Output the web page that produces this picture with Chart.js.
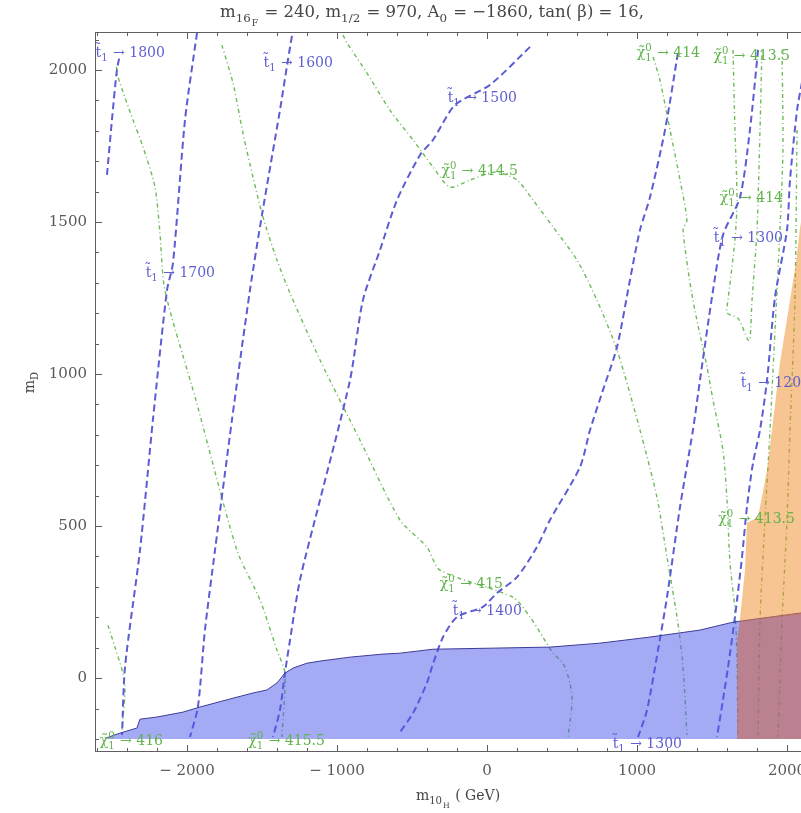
<!DOCTYPE html>
<html><head><meta charset="utf-8">
<script src="https://cdn.jsdelivr.net/npm/chart.js@4/dist/chart.umd.min.js"></script>
<style>html,body{margin:0;padding:0;overflow:hidden;background:#fff;width:801px;height:813px}canvas{display:block}</style>
</head><body><canvas id="c" width="830" height="813"></canvas>
<script>
// ---------- data (x = m_10H, y = m_D) ----------
const xTicks = [-2000, -1000, 0, 1000, 2000];
const yTicks = [0, 500, 1000, 1500, 2000];
const xLabels = ['\u2212 2000', '\u2212 1000', '0', '1000', '2000'];
const yLabels = ['0', '500', '1000', '1500', '2000'];

// stop-mass contours  (t~1)
const stop1800 = [[-2533,1655],[-2500,1836],[-2467,2000],[-2447,2049]];
const stop1700 = [[-1933,2122],[-2013,1836],[-2093,1365],[-2133,1276],[-2227,849],[-2313,421],[-2413,36],[-2433,-187]];
const stop1600 = [[-1300,2112],[-1327,2033],[-1380,1868],[-1500,1523],[-1580,1276],[-1700,849],[-1813,421],[-1880,158],[-1927,-95],[-1980,-194]];
const stop1500 = [[287,2076],[20,1951],[-213,1885],[-360,1770],[-447,1720],[-600,1572],[-713,1408],[-827,1243],[-913,980],[-1113,586],[-1247,322],[-1313,125],[-1347,16],[-1380,-105],[-1427,-194]];
const stop1400 = [[1273,2056],[1187,1803],[1087,1582],[1020,1474],[953,1309],[867,1089],[773,947],[687,816],[620,694],[420,520],[333,431],[200,332],[67,280],[-27,234],[-200,201],[-293,135],[-367,36],[-400,-16],[-493,-115],[-580,-178]];
const stop1300 = [[1807,2066],[1753,1803],[1687,1582],[1573,1457],[1500,1253],[1420,980],[1373,816],[1287,563],[1200,266],[1140,92],[1067,-105],[1007,-194]];
const stop1200 = [[2100,1960],[2067,1868],[2020,1638],[2000,1474],[1920,1253],[1867,980],[1820,816],[1773,707],[1733,563],[1700,398],[1653,201],[1607,36],[1573,-72],[1533,-194]];

// neutralino-mass contours (chi~1^0)
const neut416   = [[-2527,174],[-2480,102],[-2427,16],[-2413,-39],[-2427,-138],[-2433,-187]];
const neut4155  = [[-2470,2010],[-2460,1977],[-2360,1836],[-2293,1747],[-2213,1615],[-2180,1464],[-2147,1276],[-1940,914],[-1667,421],[-1513,257],[-1400,92],[-1347,16],[-1367,-194]];
const neut415   = [[-1767,2082],[-1693,1957],[-1627,1793],[-1560,1648],[-1493,1516],[-1400,1375],[-1313,1266],[-1113,1046],[-847,783],[-580,520],[-400,431],[-313,355],[173,266],[287,201],[373,135],[440,82],[507,49],[553,-16],[567,-82],[540,-194]];
const neut4145  = [[-960,2115],[-933,2089],[-800,1990],[-647,1868],[-493,1770],[-360,1681],[-247,1615],[-113,1638],[53,1664],[200,1638],[307,1572],[440,1484],[600,1375],[733,1243],[867,1079],[1020,816],[1133,595],[1200,398],[1273,181],[1307,36],[1333,-187]];
const neut414   = [[1107,2043],[1153,1967],[1220,1803],[1287,1638],[1333,1507],[1307,1474],[1373,1243],[1467,1023],[1507,914],[1573,750],[1600,586],[1620,378],[1653,224],[1667,59],[1673,-194]];
const neutLoop  = [[1640,2066],[1653,1803],[1667,1572],[1653,1441],[1607,1243],[1600,1201],[1673,1184],[1740,1112],[1753,1112],[1767,1243],[1800,1474],[1820,1803],[1833,2066]];
const neut4135a = [[1967,2066],[1973,1737],[1953,1474],[1920,1145],[1887,816],[1853,520],[1820,191],[1807,-194]];
const neut4135b = [[2067,1803],[2053,1243],[2020,816],[2000,520],[1967,191],[1940,-194]];

// excluded regions
const blueTop = [[-2540,-197],[-2447,-181],[-2333,-164],[-2313,-135],[-2200,-128],[-2027,-112],[-1913,-95],[-1693,-66],[-1560,-49],[-1467,-39],[-1400,-16],[-1347,16],[-1293,33],[-1200,49],[-1113,56],[-913,69],[-693,79],[-580,82],[-360,95],[87,99],[420,102],[753,115],[1087,135],[1420,158],[1640,184],[2087,214],[2300,223]];
const orangeOnly = [[1685,187],[1720,355],[1733,510],[1807,530],[1867,684],[1900,816],[1953,1036],[2060,1365],[2087,1480],[2120,1580],[2300,1580],[2300,223]];
const overlap = [[1667,-200],[1667,125],[1685,187],[2087,214],[2300,223],[2300,-200]];

// contour labels: kind, value, right end (x), middle (y)
const contourLabels = [
  ['t','1800',-2147,2059],['t','1700',-1813,1336],['t','1600',-1027,2026],['t','1500',200,1911],
  ['t','1400',233,224],['t','1300',1300,-214],['t','1300',1973,1451],['t','1200',2153,974],
  ['n','414.5',207,1671],['n','415',107,312],['n','414',1973,1582],['n','414',1420,2059],
  ['n','413.5',2020,2049],['n','413.5',2053,526],['n','416',-2160,-204],['n','415.5',-1080,-204]
];

// ---------- styling ----------
const BLUE = 'rgb(92,92,212)';
const GREEN = 'rgb(108,186,90)';
const pts = a => a.map(p => ({x: p[0], y: p[1]}));
const stopLine = a => ({data: pts(a), borderColor: BLUE, borderWidth: 2, borderDash: [7,4], pointRadius: 0, fill: false, tension: 0.25});
const neutLine = a => ({data: pts(a), borderColor: GREEN, borderWidth: 1.4, borderDash: [4,3,1,3], pointRadius: 0, fill: false, tension: 0.25});

const datasets = [
  {data: pts(overlap), borderWidth: 0, borderColor: 'rgba(0,0,0,0)', backgroundColor: 'rgba(200,103,78,0.6)', fill: 'shape', pointRadius: 0, tension: 0},
  {data: pts(orangeOnly), borderWidth: 0, borderColor: 'rgba(0,0,0,0)', backgroundColor: 'rgba(240,140,35,0.5)', fill: 'shape', pointRadius: 0, tension: 0},
  {data: pts(blueTop), borderWidth: 1, borderColor: 'rgb(60,60,150)', backgroundColor: 'rgba(75,85,235,0.5)', fill: {value: -200}, pointRadius: 0, tension: 0},
  stopLine(stop1800), stopLine(stop1700), stopLine(stop1600), stopLine(stop1500), stopLine(stop1400), stopLine(stop1300), stopLine(stop1200),
  neutLine(neut416), neutLine(neut4155), neutLine(neut415), neutLine(neut4145), neutLine(neut414), neutLine(neutLoop), neutLine(neut4135a), neutLine(neut4135b)
];

const FAM = '"DejaVu Serif", "Liberation Serif", serif';
function segWidth(ctx, s, size) {
  if (s.t !== undefined) { ctx.font = size + 'px ' + FAM; return ctx.measureText(s.t).width; }
  if (s.sub !== undefined) {
    ctx.font = (size * 0.72) + 'px ' + FAM;
    let w = ctx.measureText(s.sub).width;
    if (s.sup !== undefined) w = Math.max(w, ctx.measureText(s.sup).width);
    return w + 1;
  }
  if (s.subsub !== undefined) { ctx.font = (size * 0.55) + 'px ' + FAM; return ctx.measureText(s.subsub).width + 1; }
  return 0;
}
function drawRich(ctx, segs, x, y, size, color, align) {
  let total = 0; for (const s of segs) total += segWidth(ctx, s, size);
  let cx = align === 'right' ? x - total : align === 'center' ? x - total / 2 : x;
  ctx.fillStyle = color; ctx.textBaseline = 'alphabetic'; ctx.textAlign = 'left';
  for (const s of segs) {
    const w = segWidth(ctx, s, size);
    if (s.t !== undefined) { ctx.font = size + 'px ' + FAM; ctx.fillText(s.t, cx, y); }
    else if (s.sub !== undefined) {
      ctx.font = (size * 0.72) + 'px ' + FAM;
      ctx.fillText(s.sub, cx, y + size * 0.3);
      if (s.sup !== undefined) ctx.fillText(s.sup, cx, y - size * 0.45);
    } else if (s.subsub !== undefined) {
      ctx.font = (size * 0.55) + 'px ' + FAM; ctx.fillText(s.subsub, cx, y + size * 0.55);
    }
    cx += w;
  }
}

const overlay = {
  id: 'overlay',
  afterDraw(chart) {
    const ctx = chart.ctx, xs = chart.scales.x, ys = chart.scales.y, a = chart.chartArea;
    ctx.save();
    ctx.beginPath(); ctx.rect(a.left, a.top, a.right - a.left, a.bottom - a.top); ctx.clip();
    for (const L of contourLabels) {
      const px = xs.getPixelForValue(L[2]), py = ys.getPixelForValue(L[3]) + 5;
      const segs = L[0] === 't'
        ? [{t: 't\u0303'}, {sub: '1'}, {t: ' \u2192 ' + L[1]}]
        : [{t: '\u03C7\u0303'}, {sub: '1', sup: '0'}, {t: ' \u2192 ' + L[1]}];
      drawRich(ctx, segs, px, py, 14, L[0] === 't' ? 'rgb(95,95,210)' : 'rgb(95,180,75)', 'right');
    }
    ctx.restore();

    // frame
    ctx.save();
    ctx.strokeStyle = 'rgb(95,95,95)'; ctx.lineWidth = 1;
    ctx.strokeRect(a.left + 0.5, a.top + 0.5, a.right - a.left - 1, a.bottom - a.top - 1);
    ctx.beginPath();
    for (let v = -2600; v <= 2100; v += 200) {
      const p = Math.round(xs.getPixelForValue(v)) + 0.5;
      const len = (v % 1000 === 0) ? 7 : 4;
      ctx.moveTo(p, a.bottom); ctx.lineTo(p, a.bottom - len);
      ctx.moveTo(p, a.top); ctx.lineTo(p, a.top + len);
    }
    for (let v = -200; v <= 2100; v += 100) {
      const p = Math.round(ys.getPixelForValue(v)) + 0.5;
      const len = (v % 500 === 0) ? 7 : 4;
      ctx.moveTo(a.left, p); ctx.lineTo(a.left + len, p);
      ctx.moveTo(a.right, p); ctx.lineTo(a.right - len, p);
    }
    ctx.stroke();

    // tick labels
    ctx.fillStyle = 'rgb(90,90,90)'; ctx.font = '15px ' + FAM;
    ctx.textAlign = 'center'; ctx.textBaseline = 'middle';
    xTicks.forEach((v, i) => ctx.fillText(xLabels[i], xs.getPixelForValue(v), a.bottom + 19));
    ctx.textAlign = 'right';
    yTicks.forEach((v, i) => ctx.fillText(yLabels[i], a.left - 8, ys.getPixelForValue(v)));

    // title and axis titles
    drawRich(ctx, [{t: 'm'}, {sub: '16'}, {subsub: 'F'}, {t: ' = 240, m'}, {sub: '1/2'}, {t: ' = 970, A'}, {sub: '0'}, {t: ' = \u22121860, tan( \u03B2) = 16,'}], 432, 17, 16.5, 'rgb(70,70,70)', 'center');
    drawRich(ctx, [{t: 'm'}, {sub: '10'}, {subsub: 'H'}, {t: ' ( GeV)'}], 458, 800, 14, 'rgb(70,70,70)', 'center');
    ctx.translate(34, 382); ctx.rotate(-Math.PI / 2);
    drawRich(ctx, [{t: 'm'}, {sub: 'D'}], 0, 0, 14, 'rgb(70,70,70)', 'center');
    ctx.restore();
  }
};

new Chart(document.getElementById('c'), {
  type: 'line',
  data: {datasets},
  options: {
    responsive: false, animation: false, devicePixelRatio: 1,
    layout: {padding: {left: 95, top: 32, right: 16, bottom: 61}},
    plugins: {legend: {display: false}, tooltip: {enabled: false}, title: {display: false}},
    scales: {
      x: {type: 'linear', min: -2613, max: 2180, display: false},
      y: {type: 'linear', min: -243, max: 2125, display: false}
    }
  },
  plugins: [overlay]
});
</script></body></html>
